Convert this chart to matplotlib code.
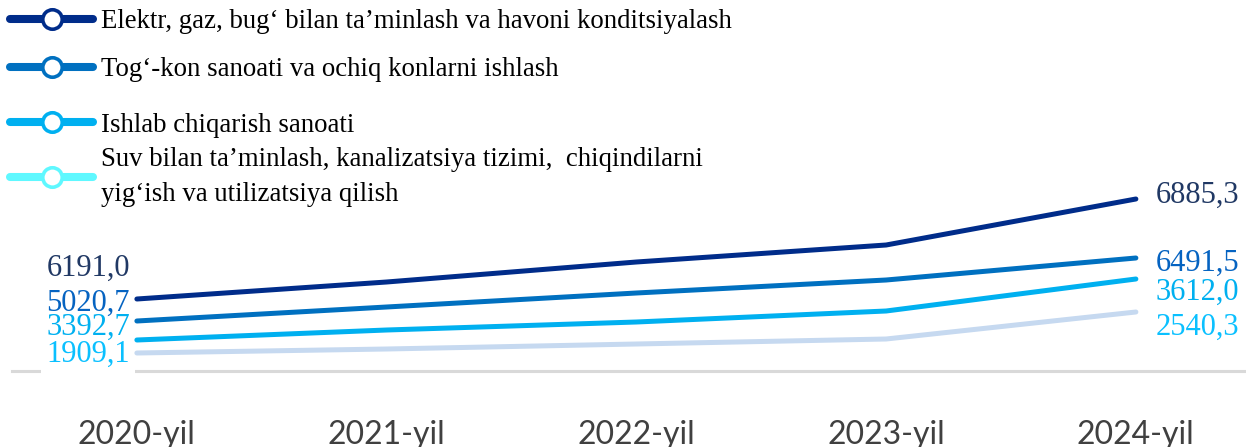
import matplotlib
matplotlib.use("Agg")
from matplotlib import pyplot as plt
from matplotlib.lines import Line2D

# dane
years = ["2020-yil", "2021-yil", "2022-yil", "2023-yil", "2024-yil"]
series_names = [
    "Elektr, gaz, bug‘ bilan ta’minlash va havoni konditsiyalash",
    "Tog‘-kon sanoati va ochiq konlarni ishlash",
    "Ishlab chiqarish sanoati",
    "Suv bilan ta’minlash, kanalizatsiya tizimi,  chiqindilarni\nyig‘ish va utilizatsiya qilish",
]
# wysokosc linii (jednostki wykresu)
elektr = [72, 89, 109, 126, 172]
togkon = [50, 64, 78, 91, 113]
ishlab = [31, 41, 49, 60, 92]
suv = [18, 22, 27, 32, 59]
# podpisy wartosci
start_labels = ["6191,0", "5020,7", "3392,7", "1909,1"]
end_labels = ["6885,3", "6491,5", "3612,0", "2540,3"]

lines = [elektr, togkon, ishlab, suv]
line_colors = ["#002c8a", "#0070c0", "#00b0f0", "#c6d9f0"]
legend_colors = ["#002c8a", "#0070c0", "#00b0f0", "#5ff8ff"]
label_colors = ["#203864", "#0563c1", "#00b0f0", "#0ac0ff"]
start_offsets = [31, 18, 13, -1]
end_offsets = [4, -5, -13, -15]
legend_y = [22, 70, 125, 177]  # srodki wpisow legendy w pikselach od gory

W, H = 1246, 447
fig = plt.figure(figsize=(W / 100, H / 100), dpi=100)
ax = fig.add_axes([12 / W, 76 / H, (W - 12) / W, 211 / H])

x = list(range(len(years)))
for vals, col in zip(lines, line_colors):
    ax.plot(x, vals, color=col, lw=3.6, solid_capstyle="round", zorder=3)

serif = "Liberation Serif"
for i, vals in enumerate(lines):
    bbox = dict(facecolor="white", edgecolor="none", pad=4) if i == 3 else None
    ax.annotate(start_labels[i], (0, vals[0]), xytext=(-7, start_offsets[i]),
                textcoords="offset pixels", ha="right", va="center",
                fontsize=22, family=serif, color=label_colors[i], bbox=bbox,
                zorder=2 if i == 3 else 4)
    ax.annotate(end_labels[i], (4, vals[-1]), xytext=(20, end_offsets[i]),
                textcoords="offset pixels", ha="left", va="center",
                fontsize=22, family=serif, color=label_colors[i], zorder=4)

ax.set_xlim(-0.5, -0.5 + (W - 12) / 249.75)
ax.set_ylim(0, 211)
for s in ["left", "right", "top"]:
    ax.spines[s].set_visible(False)
ax.spines["bottom"].set_color("#d9d9d9")
ax.spines["bottom"].set_linewidth(2.2)
ax.spines["bottom"].set_zorder(1)
ax.set_yticks([])
ax.set_xticks(x)
ax.set_xticklabels(years, fontsize=23, family="Lato", color="#404040")
ax.tick_params(axis="x", length=0, pad=35)

# legenda - kazdy wpis osobno, zeby odstepy byly jak w oryginale
for name, c, yy in zip(series_names, legend_colors, legend_y):
    h = Line2D([], [], color=c, lw=5.8, solid_capstyle="round", marker="o",
               markersize=14, markerfacecolor="white", markeredgecolor=c,
               markeredgewidth=2.6)
    leg = fig.legend([h], [name], loc="center left", bbox_to_anchor=(10 / W, 1 - yy / H),
                     frameon=False, prop={"family": serif, "size": 19.3}, handlelength=3.1,
                     handletextpad=0.3, borderpad=0, borderaxespad=0)
    for t in leg.get_texts():
        t.set_linespacing(1.5)

plt.savefig("out.png", dpi=100)
plt.close()
